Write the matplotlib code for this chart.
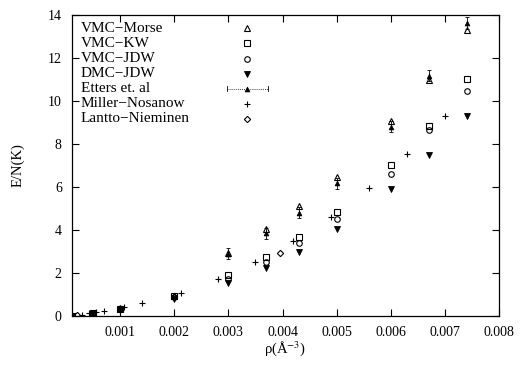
import matplotlib
matplotlib.use('Agg')
import matplotlib.pyplot as plt

plt.rcParams['font.family'] = ['Liberation Serif', 'DejaVu Serif']
plt.rcParams['mathtext.fontset'] = 'stix'

# ---- data ----
rho_vmc = [0.0001, 0.0005, 0.001, 0.002, 0.003, 0.0037, 0.0043, 0.005, 0.006, 0.0067, 0.0074]
vmc_morse = [0.02, 0.15, 0.35, 0.95, 2.95, 4.05, 5.10, 6.47, 9.05, 10.98, 13.30]
vmc_kw = [0.02, 0.14, 0.33, 0.92, 1.90, 2.75, 3.67, 4.85, 7.02, 8.84, 11.02]
vmc_jdw = [0.02, 0.13, 0.31, 0.88, 1.72, 2.50, 3.38, 4.50, 6.60, 8.65, 10.48]
dmc_jdw = [0.01, 0.11, 0.26, 0.80, 1.55, 2.25, 2.98, 4.05, 5.90, 7.49, 9.32]

rho_etters = [0.003, 0.0037, 0.0043, 0.005, 0.006, 0.0067, 0.0074]
etters = [2.90, 3.85, 4.80, 6.17, 8.80, 11.18, 13.63]
etters_err = [0.25, 0.25, 0.25, 0.25, 0.25, 0.25, 0.28]

rho_mn = [0.0003, 0.00043, 0.00055, 0.0007, 0.00107, 0.0014, 0.00212, 0.0028,
          0.0035, 0.0042, 0.0049, 0.0056, 0.0063, 0.0070]
miller_nosanow = [0.05, 0.12, 0.17, 0.23, 0.43, 0.59, 1.09, 1.73,
                  2.52, 3.50, 4.62, 5.97, 7.55, 9.30]

rho_ln = [0.0002, 0.0005, 0.001, 0.002, 0.00395]
lantto_nieminen = [0.03, 0.13, 0.31, 0.88, 2.93]

labels = ['VMC\u2212Morse', 'VMC\u2212KW', 'VMC\u2212JDW', 'DMC\u2212JDW',
          'Etters et. al', 'Miller\u2212Nosanow', 'Lantto\u2212Nieminen']

xticks = [0.001, 0.002, 0.003, 0.004, 0.005, 0.006, 0.007, 0.008]
xticklabels = ['0.001', '0.002', '0.003', '0.004', '0.005', '0.006', '0.007', '0.008']
yticks = [0, 2, 4, 6, 8, 10, 12, 14]

# ---- figure ----
fig = plt.figure(figsize=(5.25, 3.67), dpi=100)
ax = fig.add_axes([71.5 / 525, 51 / 367, 427.5 / 525, 301 / 367])

k = 'black'
styles = [
    dict(marker='^', ms=4.5, mfc='none', mec=k, mew=0.8, ls='none'),
    dict(marker='s', ms=4.0, mfc='none', mec=k, mew=0.8, ls='none'),
    dict(marker='o', ms=4.0, mfc='none', mec=k, mew=0.8, ls='none'),
    dict(marker='v', ms=4.5, mfc=k, mec=k, mew=0.6, ls='none'),
    dict(marker='^', ms=3.5, mfc=k, mec=k, mew=0.5, ls='none'),
    dict(marker='+', ms=4.5, mfc='none', mec=k, mew=0.8, ls='none'),
    dict(marker='D', ms=3.2, mfc='none', mec=k, mew=0.8, ls='none'),
]

ax.plot(rho_vmc, vmc_morse, **styles[0])
ax.plot(rho_vmc, vmc_kw, **styles[1])
ax.plot(rho_vmc, vmc_jdw, **styles[2])
ax.plot(rho_vmc, dmc_jdw, **styles[3])
ax.errorbar(rho_etters, etters, yerr=etters_err, fmt='none', ecolor=k,
            elinewidth=0.6, capsize=1.5, capthick=0.6)
ax.plot(rho_etters, etters, **styles[4])
ax.plot(rho_mn, miller_nosanow, **styles[5])
ax.plot(rho_ln, lantto_nieminen, **styles[6])

# ---- key (gnuplot-style: text left, symbols in a column) ----
for i, lab in enumerate(labels):
    yk = (316 - (28.3 + 15.1 * i)) / 301
    ax.text(0.0215, yk, lab, transform=ax.transAxes, fontsize=11,
            va='center', ha='left')
    if i == 4:
        ax.plot([0.364, 0.46], [yk, yk], transform=ax.transAxes, color=k,
                lw=0.6, ls=(0, (1, 1.5)))
        ax.plot([0.364, 0.364], [yk - 0.008, yk + 0.008], transform=ax.transAxes,
                color=k, lw=0.6)
        ax.plot([0.46, 0.46], [yk - 0.008, yk + 0.008], transform=ax.transAxes,
                color=k, lw=0.6)
    ax.plot([0.41], [yk], transform=ax.transAxes, **styles[i])

ax.set_xlim(0.0001, 0.008)
ax.set_ylim(0, 14)
ax.set_xticks(xticks)
ax.set_xticklabels(xticklabels)
ax.set_yticks(yticks)
ax.tick_params(direction='in', top=True, right=True, length=5, width=0.8,
               labelsize=10, pad=7)
for s in ax.spines.values():
    s.set_linewidth(0.9)

ax.set_xlabel('\u03c1(Å$^{-3}$)', fontsize=10.5, labelpad=0)
ax.set_ylabel('E/N(K)', fontsize=10.5, labelpad=17)

fig.savefig('out.png', dpi=100)
